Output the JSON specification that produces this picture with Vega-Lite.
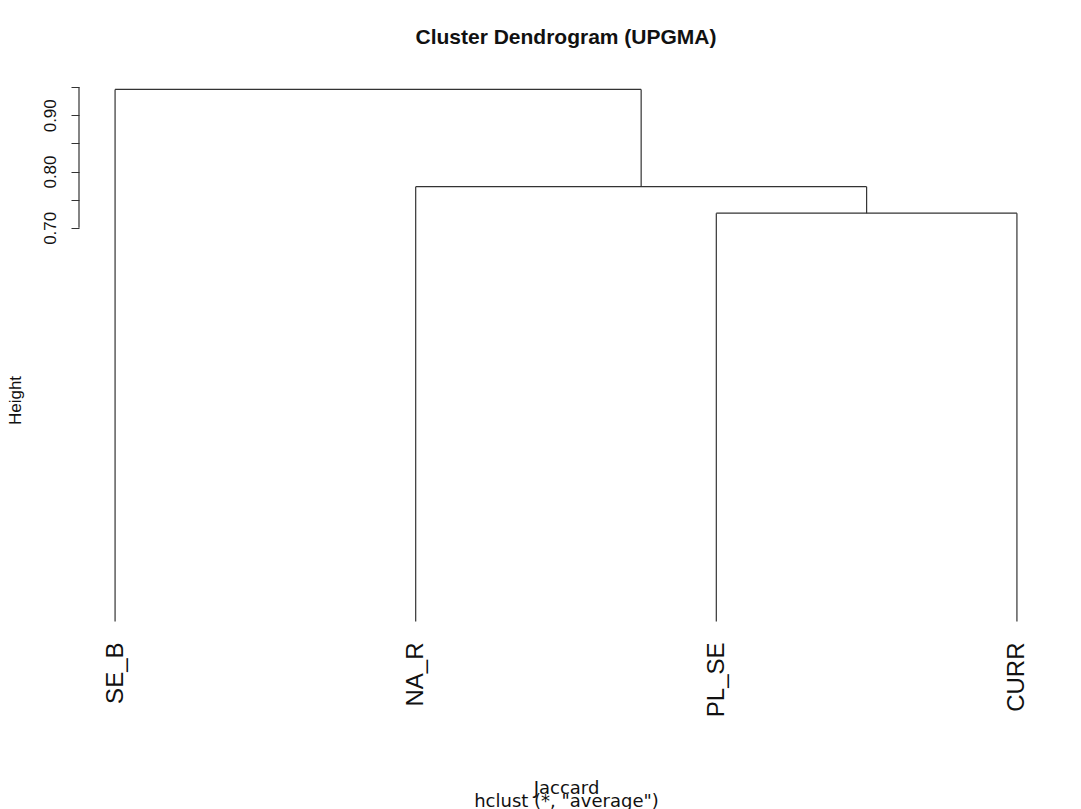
{
  "$schema": "https://vega.github.io/schema/vega-lite/v6.json",
  "autosize": "none",
  "width": 974,
  "height": 575,
  "padding": {"left": 79, "top": 68, "right": 28, "bottom": 166},
  "background": "white",
  "config": {
    "view": {"stroke": null},
    "font": "Liberation Sans"
  },
  "title": {
    "text": "Cluster Dendrogram (UPGMA)",
    "fontSize": 21,
    "fontWeight": "bold",
    "font": "Liberation Sans",
    "color": "#111",
    "anchor": "middle",
    "frame": "group",
    "baseline": "alphabetic",
    "offset": 3
  },
  "datasets": {
    "segments": [
      {"x": 3, "x2": 3, "y": 0, "y2": 0.726},
      {"x": 4, "x2": 4, "y": 0, "y2": 0.726},
      {"x": 3, "x2": 4, "y": 0.726, "y2": 0.726},
      {"x": 2, "x2": 2, "y": 0, "y2": 0.773},
      {"x": 3.5, "x2": 3.5, "y": 0.726, "y2": 0.773},
      {"x": 2, "x2": 3.5, "y": 0.773, "y2": 0.773},
      {"x": 1, "x2": 1, "y": 0, "y2": 0.946},
      {"x": 2.75, "x2": 2.75, "y": 0.773, "y2": 0.946},
      {"x": 1, "x2": 2.75, "y": 0.946, "y2": 0.946}
    ],
    "axisline": [
      {"x": 0.88, "y": 0.7, "y2": 0.95}
    ]
  },
  "layer": [
    {
      "data": {"name": "segments"},
      "mark": {"type": "rule", "color": "#333", "strokeWidth": 1.2},
      "encoding": {
        "x": {
          "field": "x",
          "type": "quantitative",
          "scale": {"domain": [0.88, 4.12], "nice": false, "zero": false},
          "axis": {
            "values": [1, 2, 3, 4],
            "labelExpr": "['', 'SE_B', 'NA_R', 'PL_SE', 'CURR'][datum.value]",
            "labelAngle": -90,
            "labelAlign": "right",
            "labelBaseline": "middle",
            "labelFontSize": 24,
            "labelColor": "#111",
            "labelPadding": -1,
            "ticks": false,
            "domain": false,
            "grid": false,
            "title": ["Jaccard", "hclust (*, \"average\")"],
            "titleFont": "DejaVu Sans",
            "titleFontSize": 18,
            "titleFontWeight": "normal",
            "titleColor": "#111",
            "titleLineHeight": 13,
            "titleBaseline": "alphabetic",
            "titleY": 150
          }
        },
        "x2": {"field": "x2"},
        "y": {
          "field": "y",
          "type": "quantitative",
          "scale": {"domain": [-0.038, 0.984], "nice": false, "zero": false},
          "axis": {
            "values": [0.7, 0.75, 0.8, 0.85, 0.9, 0.95],
            "labelExpr": "round(datum.value * 100) % 10 == 0 ? format(datum.value, '.2f') : ''",
            "labelAngle": -90,
            "labelAlign": "center",
            "labelBaseline": "bottom",
            "labelFontSize": 17,
            "labelColor": "#111",
            "labelPadding": 12,
            "tickSize": 8,
            "tickColor": "#333",
            "domain": false,
            "grid": false,
            "title": "Height",
            "titleFontSize": 17,
            "titleFontWeight": "normal",
            "titleColor": "#111",
            "titleAngle": -90,
            "titleBaseline": "middle",
            "titleAlign": "center",
            "titleX": -64,
            "titleY": 332
          }
        },
        "y2": {"field": "y2"}
      }
    },
    {
      "data": {"name": "axisline"},
      "mark": {"type": "rule", "color": "#333", "strokeWidth": 1.2},
      "encoding": {
        "x": {"field": "x", "type": "quantitative"},
        "y": {"field": "y", "type": "quantitative"},
        "y2": {"field": "y2"}
      }
    }
  ]
}
